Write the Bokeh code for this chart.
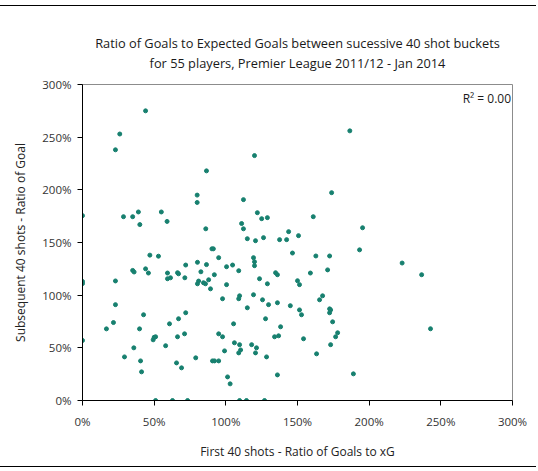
from bokeh.plotting import figure
from bokeh.models import Range1d, Label, Title, PrintfTickFormatter, FixedTicker, ColumnDataSource
from bokeh.embed import file_html
from bokeh.resources import INLINE

# First 40 shots ratio of goals to xG (%)
first_40_ratio = [
    44, 26, 23, 86.5, 80, 80, 0, 28.6, 35, 39, 40, 55, 59, 86, 90.3, 91.3,
    0, 0, 0, 47, 53, 35, 36, 44, 46, 23, 23, 21.6, 16.7, 42.6, 39.8, 35.8,
    29.3, 40.5, 41.2, 49.3, 50, 51, 51, 62.8, 73.3, 59.3, 59.3, 61.4, 66.3, 67,
    72, 71.4, 60.7, 67, 72, 66.3, 71.2, 58, 65.6, 69.1, 79, 80.2, 82.6, 86.5,
    81, 80.2, 84.4, 85.8, 88, 89.3, 92, 95, 100.5, 100.5, 97.7, 95, 97.7, 99.1,
    90.7, 92.1, 95, 101.2, 103,
    186.5, 120, 173.8, 112.3, 122, 125, 129, 161, 111, 112.3, 115, 120.7, 126.3,
    137.5, 142.4, 143.8, 150.7, 195.4, 193.3,
    146.5, 162.8, 172.4, 171, 159, 104.7, 109, 119.3, 120, 120, 123.5, 129,
    134.7, 136, 150, 151.4, 119.3, 109.6, 109, 125.6, 129.8, 136, 115, 145,
    151.4, 152.8, 165.4, 167.5, 172.4, 173.1, 172.4, 174.5, 178, 176.6, 173.1,
    163.3, 154.2, 138.2, 134, 136.8, 127.7, 105.4, 106, 109.6, 109, 110.3, 118,
    121.4, 120.7, 128.4, 136, 109.6, 114.4, 127, 189,
    223, 236.6, 242.8,
]

# Subsequent 40 shots ratio of goals to xG (%)
next_40_ratio = [
    275, 253, 238, 218, 195, 188, 175.5, 174.5, 174.5, 179, 167, 179, 170, 163, 144, 144,
    113, 111, 57, 138, 137, 123.5, 122, 125, 121, 113.5, 91, 74, 68, 81.4, 68, 50,
    41.4, 37.6, 27.2, 57.6, 60, 60.5, 0, 0, 0, 121, 115.6, 116.5, 121.3, 120.3,
    128.6, 116.5, 72.8, 77.6, 83.3, 60.5, 63.3, 52, 35.7, 31, 40.5, 131.2, 122.2, 129,
    113.4, 110.8, 111.8, 110.8, 114.6, 106, 119.4, 135.6, 127, 110, 96.6, 63.3, 60.5, 47.1,
    37.6, 37.6, 37.6, 22.4, 15.8,
    256, 232.5, 197.3, 190.7, 178.3, 172.6, 173.6, 174.5, 168, 163, 153.6, 151.7, 154.6,
    152.7, 152.7, 160.3, 156.5, 164, 143,
    140, 137.2, 137.2, 124, 121, 128.6, 123.2, 135.6, 131.7, 128, 115.6, 110.8,
    121.3, 119.4, 113.7, 110, 100.4, 99.4, 96.6, 95.6, 91, 92.8, 88, 90,
    86, 81.4, 95.6, 99.4, 87, 86, 83.3, 74.7, 64.3, 60.5, 53,
    44.3, 58.6, 70, 60.5, 61.4, 77.6, 72.8, 54.8, 53, 45.2, 48, 53,
    50, 45.2, 41.4, 24.3, 0, 0, 0, 25.3,
    130.5, 119.4, 68.1,
]

x_ticks = [0, 50, 100, 150, 200, 250, 300]
y_ticks = [0, 50, 100, 150, 200, 250, 300]

title_line1 = "Ratio of Goals to Expected Goals between sucessive 40 shot buckets"
title_line2 = "for 55 players, Premier League 2011/12 - Jan 2014"
x_label = "First 40 shots - Ratio of Goals to xG"
y_label = "Subsequent 40 shots - Ratio of Goal"
r2_text = "R\u00b2 = 0.00"

FONT = "Open Sans"

source = ColumnDataSource(data=dict(x=first_40_ratio, y=next_40_ratio))

p = figure(width=536, height=462, output_backend="svg", toolbar_location=None,
           x_range=Range1d(0, 300), y_range=Range1d(0, 300),
           min_border_left=82, min_border_right=24, min_border_top=78, min_border_bottom=68,
           styles={"margin-top": "5px", "border-top": "1px solid black",
                   "border-bottom": "1px solid black"})

p.background_fill_color = "white"
p.border_fill_color = "white"
p.outline_line_color = "#8c8c8c"
p.outline_line_width = 1
p.grid.visible = False

for ax, ticks in ((p.xaxis, x_ticks), (p.yaxis, y_ticks)):
    ax.ticker = FixedTicker(ticks=ticks)
    ax.formatter = PrintfTickFormatter(format="%d%%")
    ax.axis_line_color = "black"
    ax.axis_line_width = 1
    ax.major_tick_line_color = "black"
    ax.major_tick_in = 0
    ax.major_tick_out = 5
    ax.minor_tick_line_color = None
    ax.major_label_text_font = FONT
    ax.major_label_text_font_size = "11.5px"
    ax.major_label_text_color = "#333333"
    ax.axis_label_text_font = FONT
    ax.axis_label_text_font_size = "12px"
    ax.axis_label_text_font_style = "normal"
    ax.axis_label_text_color = "#222222"

p.xaxis.major_label_standoff = 8
p.yaxis.major_label_standoff = 6
p.xaxis.axis_label = x_label
p.yaxis.axis_label = y_label
p.xaxis.axis_label_standoff = 11
p.yaxis.axis_label_standoff = 10

p.scatter("x", "y", source=source, marker="circle", size=4.0,
          fill_color="#17806f", line_color="#17806f")

# spacer between frame and the title lines
p.add_layout(Title(text=" ", text_font_size="9.5px", standoff=0), "above")
p.add_layout(Title(text=title_line2, align="center", text_font=FONT,
                   text_font_size="12.8px", text_font_style="normal",
                   text_color="#1a1a1a", standoff=0), "above")
p.add_layout(Title(text=title_line1, align="center", text_font=FONT,
                   text_font_size="12.8px", text_font_style="normal",
                   text_color="#1a1a1a", standoff=0), "above")
p.add_layout(Label(x=299, y=287, text=r2_text, text_align="right",
                   text_baseline="middle", text_font=FONT, text_font_size="12px",
                   text_color="#1a1a1a"))

open("out.html", "w").write(file_html(p, INLINE))
